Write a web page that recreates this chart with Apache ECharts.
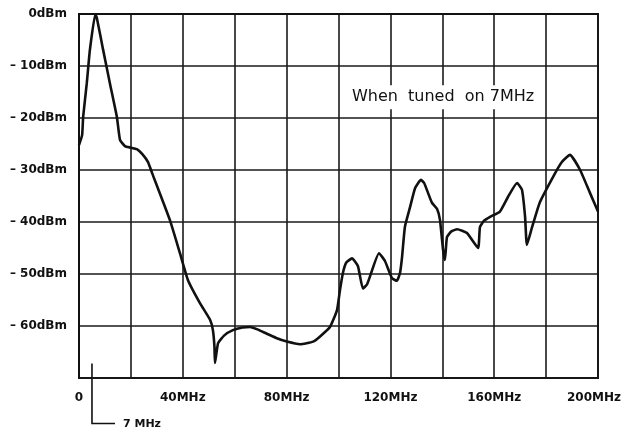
<!DOCTYPE html>
<html>
<head>
<meta charset="utf-8">
<script src="https://cdn.jsdelivr.net/npm/echarts@6/dist/echarts.min.js"></script>
<style>html,body{margin:0;padding:0;background:#fff}#c{width:624px;height:433px}</style>
</head>
<body>
<div id="c"></div>
<script>
// Frequency (MHz) and level (dBm)
const freqMHz = [0, 1.2, 1.6, 3, 4.2, 6.3, 6.9, 9.3, 11.9, 14.6, 15.8, 17.7, 20, 22.3, 24.5, 26.6, 28.1, 35, 38.9, 42, 46.6, 50.5, 51.6, 52.2, 52.4, 53.6, 56, 59.3, 63, 65.9, 69, 72.4, 76, 80.1, 85.2, 90.2, 92.9, 96.7, 99.4, 100.6, 101.7, 103, 105.2, 107.5, 109.4, 111, 112.1, 115.6, 117.9, 120.6, 122.5, 123.7, 124.5, 125.6, 127.6, 129.5, 131.8, 133, 134.5, 136, 138, 139.1, 140.3, 141, 141.8, 143.5, 145.7, 149.5, 153.8, 154.5, 156, 158.4, 162.2, 165.3, 168.8, 170.7, 171.9, 172.6, 174.6, 177.6, 182.7, 186, 189.2, 193.1, 196.9, 200];
const levelDBm = [-25.2, -23.3, -19.8, -13.3, -6.9, 0, -0.8, -6.9, -13.3, -19.8, -24.2, -25.4, -25.7, -26, -27, -28.5, -30.5, -39.6, -46, -51.2, -55.6, -58.8, -60.8, -64, -67.1, -63.3, -61.8, -60.8, -60.3, -60.2, -60.7, -61.5, -62.3, -63, -63.5, -63, -62, -60.2, -57, -53, -49.8, -47.8, -47, -48.5, -52.8, -52, -50.5, -46, -47.5, -50.8, -51.3, -49.8, -46.7, -40.9, -37.1, -33.5, -31.9, -32.5, -34.4, -36.3, -37.5, -39.6, -45.4, -47.3, -42.9, -41.8, -41.4, -42.1, -45, -41, -39.8, -39, -38, -35.2, -32.5, -33.8, -39, -44.4, -41, -36.2, -31.3, -28.5, -27.1, -30, -34.4, -38];
const yTicks = [0, -10, -20, -30, -40, -50, -60];
const xLabelTicks = [0, 40, 80, 120, 160, 200];
const noteText = 'When  tuned  on 7MHz';
const markerText = '7 MHz';
const markerFreq = 5;
const markerTop = -67.2;

const data = freqMHz.map((f, i) => [f, levelDBm[i]]);
const chart = echarts.init(document.getElementById('c'));
const fontFam = '"DejaVu Sans", "Liberation Sans", sans-serif';
chart.setOption({
  animation: false,
  backgroundColor: '#fff',
  grid: {left: 79, right: 26, top: 14, bottom: 55, show: true, borderColor: '#111', borderWidth: 2,
    containLabel: false, outerBoundsMode: 'none'},
  xAxis: {
    type: 'value', min: 0, max: 200, interval: 20,
    axisLine: {show: true, lineStyle: {color: '#111', width: 2}},
    axisTick: {show: false},
    splitLine: {show: true, lineStyle: {color: '#1a1a1a', width: 1.6}},
    axisLabel: {
      margin: 14, color: '#111', fontSize: 12, fontWeight: 'bold', fontFamily: fontFam,
      rich: {r: {fontSize: 12, fontWeight: 'bold', fontFamily: fontFam, color: '#111', padding: [0, 8, 0, 0]}},
      formatter: v => xLabelTicks.includes(v) ? (v === 0 ? '0' : (v === 200 ? '{r|' + v + 'MHz}' : v + 'MHz')) : ''
    }
  },
  yAxis: {
    type: 'value', min: -70, max: 0, interval: 10,
    axisLine: {show: true, lineStyle: {color: '#111', width: 2}},
    axisTick: {show: false},
    splitLine: {show: true, lineStyle: {color: '#1a1a1a', width: 1.6}},
    axisLabel: {
      margin: 12, color: '#111', fontSize: 12, fontWeight: 'bold', fontFamily: fontFam,
      formatter: v => yTicks.includes(v) ? (v === 0 ? '0dBm' : '\u2013 ' + Math.abs(v) + 'dBm') : ''
    }
  },
  series: [{
    type: 'line', data: data, showSymbol: false, smooth: 0.15,
    lineStyle: {color: '#111', width: 2.6}, z: 5
  }]
});

function place() {
  const note = chart.convertToPixel({gridIndex: 0}, [104.4, -16]);
  const mTop = chart.convertToPixel({gridIndex: 0}, [markerFreq, markerTop]);
  const bottomY = mTop[1] + 60;
  chart.setOption({
    graphic: [
      {type: 'text', x: note[0], y: note[1], z: 10,
        style: {text: noteText, fill: '#111', font: '16px ' + fontFam, textVerticalAlign: 'middle',
          backgroundColor: '#fff', padding: [4, 2]}},
      {type: 'polyline', z: 10, shape: {points: [[mTop[0], mTop[1]], [mTop[0], bottomY], [mTop[0] + 23, bottomY]]},
        style: {stroke: '#111', lineWidth: 1.6, fill: null}},
      {type: 'text', x: mTop[0] + 31, y: bottomY + 1, z: 10,
        style: {text: markerText, fill: '#111', font: 'bold 11px ' + fontFam, textVerticalAlign: 'middle'}}
    ]
  });
}
place();
</script>
</body>
</html>
